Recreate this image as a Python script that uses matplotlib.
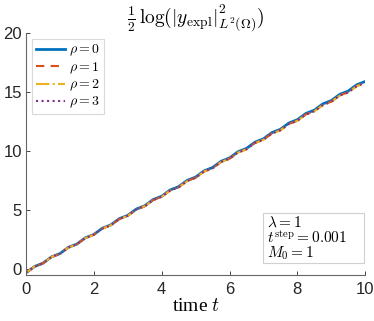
import matplotlib
matplotlib.use("Agg")
import matplotlib.pyplot as plt
from matplotlib.patches import Rectangle

plt.rcParams['mathtext.fontset'] = 'cm'
plt.rcParams['font.family'] = ['Liberation Sans', 'DejaVu Sans']
plt.rcParams['font.serif'] = ['Liberation Serif', 'DejaVu Serif']

t = [0.0, 0.25, 0.5, 0.75, 1.0, 1.25, 1.5, 1.75, 2.0, 2.25, 2.5, 2.75, 3.0, 3.25,
     3.5, 3.75, 4.0, 4.25, 4.5, 4.75, 5.0, 5.25, 5.5, 5.75, 6.0, 6.25, 6.5, 6.75,
     7.0, 7.25, 7.5, 7.75, 8.0, 8.25, 8.5, 8.75, 9.0, 9.25, 9.5, 9.75, 10.0]

rho0 = [-0.30, 0.22, 0.51, 1.04, 1.32, 1.85, 2.13, 2.66, 2.94, 3.47, 3.75, 4.28,
        4.56, 5.09, 5.37, 5.90, 6.18, 6.71, 6.99, 7.52, 7.80, 8.33, 8.61, 9.14,
        9.42, 9.95, 10.23, 10.76, 11.04, 11.57, 11.85, 12.38, 12.66, 13.19, 13.47,
        14.00, 14.28, 14.81, 15.09, 15.62, 15.90]
rho1 = [-0.30, 0.22, 0.50, 1.03, 1.31, 1.84, 2.11, 2.64, 2.92, 3.45, 3.72, 4.25,
        4.53, 5.06, 5.33, 5.86, 6.14, 6.67, 6.94, 7.47, 7.75, 8.28, 8.55, 9.08,
        9.36, 9.89, 10.16, 10.69, 10.97, 11.50, 11.77, 12.30, 12.58, 13.11, 13.38,
        13.91, 14.19, 14.72, 14.99, 15.52, 15.80]
rho2 = [-0.30, 0.22, 0.50, 1.03, 1.31, 1.83, 2.11, 2.64, 2.91, 3.44, 3.72, 4.24,
        4.52, 5.05, 5.33, 5.85, 6.13, 6.66, 6.93, 7.46, 7.74, 8.27, 8.54, 9.07,
        9.35, 9.88, 10.15, 10.68, 10.96, 11.48, 11.76, 12.29, 12.56, 13.09, 13.37,
        13.89, 14.17, 14.70, 14.97, 15.50, 15.78]
rho3 = [-0.30, 0.22, 0.50, 1.03, 1.31, 1.84, 2.11, 2.64, 2.92, 3.45, 3.72, 4.25,
        4.53, 5.06, 5.33, 5.86, 6.14, 6.67, 6.94, 7.47, 7.75, 8.28, 8.55, 9.08,
        9.36, 9.89, 10.16, 10.69, 10.97, 11.50, 11.77, 12.30, 12.57, 13.10, 13.38,
        13.90, 14.18, 14.71, 14.98, 15.51, 15.79]

labels = [r'$\rho = 0$', r'$\rho = 1$', r'$\rho = 2$', r'$\rho = 3$']
info_lines = [r'$\lambda = 1$', r'$t^{\mathrm{step}} = 0.001$', r'$M_0 = 1$']
xticks = [0, 2, 4, 6, 8, 10]
yticks = [0, 5, 10, 15, 20]

fig = plt.figure(figsize=(3.74, 3.21), dpi=100)
ax = fig.add_axes([0.0695, 0.143, 0.907, 0.754])

ax.plot(t, rho0, color='#0072BD', lw=2.0, ls='-', label=labels[0])
ax.plot(t, rho1, color='#D95319', lw=1.5, ls=(0, (4, 3)), label=labels[1])
ax.plot(t, rho2, color='#EDB120', lw=1.5, ls='-.', label=labels[2])
ax.plot(t, rho3, color='#7E2F8E', lw=1.5, ls=':', label=labels[3])

ax.set_xlim(0, 10)
ax.set_ylim(-0.5, 20)
ax.set_xticks(xticks)
ax.set_yticks(yticks)
ax.tick_params(direction='in', length=3, width=0.6, colors='#262626',
               labelsize=12, pad=3)
ax.tick_params(axis='x', pad=5)
for s in ['top', 'right']:
    ax.spines[s].set_visible(False)
for s in ['left', 'bottom']:
    ax.spines[s].set_color('#666666')
    ax.spines[s].set_linewidth(0.8)

ax.set_title(r'$\frac{1}{2}\,\log(|y_{\mathrm{expl}}|^2_{L^2(\Omega)})$',
             fontsize=14, pad=3)
ax.set_xlabel(r'time $t$', fontsize=14, family='serif', labelpad=1)

leg = ax.legend(loc='upper left', fontsize=10, frameon=True, fancybox=False,
                edgecolor='#d0d0d0', handlelength=2.1, handletextpad=0.3,
                borderpad=0.25, labelspacing=0.12, borderaxespad=0.45)
leg.get_frame().set_linewidth(0.8)

ax.add_patch(Rectangle((0.699, 0.052), 0.298, 0.205, transform=ax.transAxes,
                       facecolor='white', edgecolor='#d0d0d0', lw=0.8,
                       zorder=5, clip_on=False))
for line, yb in zip(info_lines, [0.198, 0.132, 0.072]):
    ax.text(0.71, yb, line, transform=ax.transAxes, ha='left', va='baseline',
            fontsize=11, zorder=6)

fig.savefig('out.png', dpi=100)
